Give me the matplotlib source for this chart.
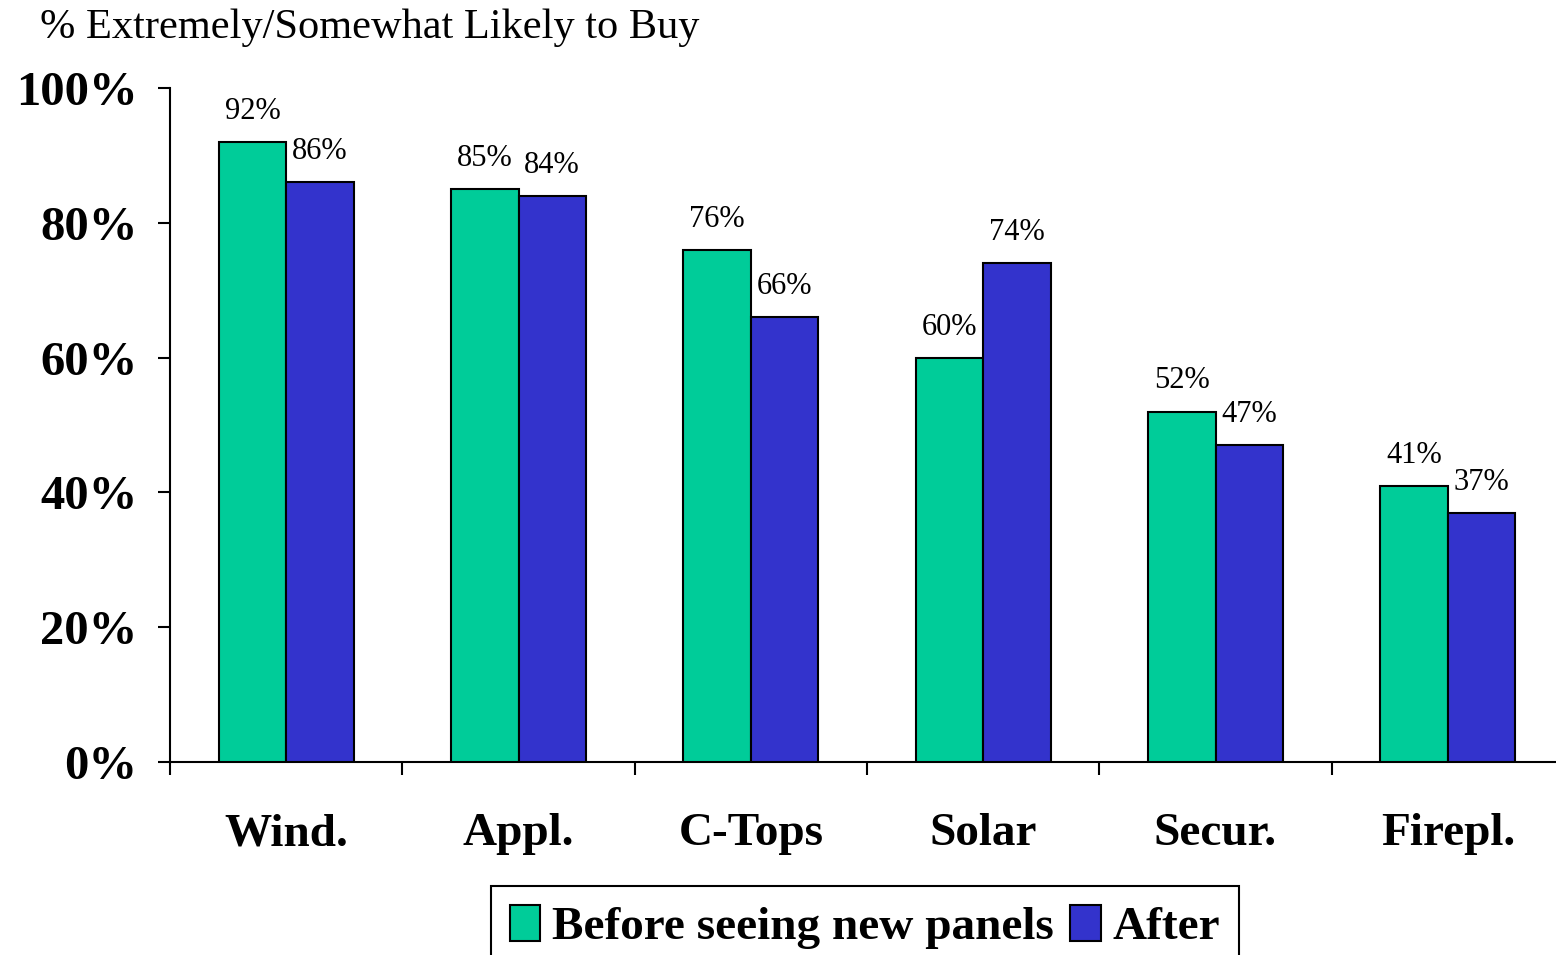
import matplotlib
matplotlib.use("Agg")
import matplotlib.pyplot as plt
import numpy as np

categories = ["Wind.", "Appl.", "C-Tops", "Solar", "Secur.", "Firepl."]
before = [92, 85, 76, 60, 52, 41]
after = [86, 84, 66, 74, 47, 37]
series_names = ["Before seeing new panels", "After"]
yticks = [0, 20, 40, 60, 80, 100]
ytick_labels = ["0%", "20%", "40%", "60%", "80%", "100%"]

plt.rcParams['font.family'] = ['Liberation Serif', 'DejaVu Serif']

W, H = 1556, 955
fig = plt.figure(figsize=(W / 100, H / 100), dpi=100)
left = 170 / W
right = 1564 / W
bottom = 1 - 762 / H
top = 1 - 88 / H
ax = fig.add_axes([left, bottom, right - left, top - bottom])

green = "#00CC99"
blue = "#3333CC"
x = np.arange(len(categories)) + 0.5
bw = 0.29
b1 = ax.bar(x - bw / 2, before, bw, color=green, edgecolor="black", linewidth=1.5, label=series_names[0], zorder=3)
b2 = ax.bar(x + bw / 2, after, bw, color=blue, edgecolor="black", linewidth=1.5, label=series_names[1], zorder=3)

for rects, vals in ((b1, before), (b2, after)):
    for r, v in zip(rects, vals):
        ax.annotate(f"{v}%", (r.get_x() + r.get_width() / 2, v), xytext=(0, 22),
                    textcoords="offset points", ha="center", va="center", fontsize=22)

ax.set_xlim(0, len(categories))
ax.set_ylim(0, 100)
ax.set_yticks(yticks)
ax.set_yticklabels(ytick_labels, fontsize=35, fontweight="bold")
ax.set_xticks(np.arange(len(categories)))
ax.set_xticklabels([])
ax.tick_params(axis="y", length=9, width=1.5, direction="out", pad=14.5)
ax.tick_params(axis="x", length=9, width=1.5, direction="out")
for xi, c in zip(x, categories):
    ax.text(xi, -10.7, c, ha="center", va="center", fontsize=34, fontweight="bold",
            transform=ax.transData)
for s in ["top", "right"]:
    ax.spines[s].set_visible(False)
ax.spines["left"].set_linewidth(1.5)
ax.spines["bottom"].set_linewidth(1.5)

fig.text(40 / W, 1 - 28 / H, "% Extremely/Somewhat Likely to Buy", fontsize=30.5,
         ha="left", va="center")

leg = fig.legend(handles=[b1, b2], labels=series_names, loc="upper center",
                 bbox_to_anchor=(865 / W, 1 - 886 / H), ncol=2, frameon=True,
                 fancybox=False, edgecolor="black", framealpha=1,
                 prop={"size": 34, "weight": "bold"}, handlelength=0.65, handleheight=0.8,
                 handletextpad=0.25, columnspacing=0.35, borderpad=0.4, borderaxespad=0)
leg.get_frame().set_linewidth(1.5)

fig.savefig("out.png", dpi=100)
